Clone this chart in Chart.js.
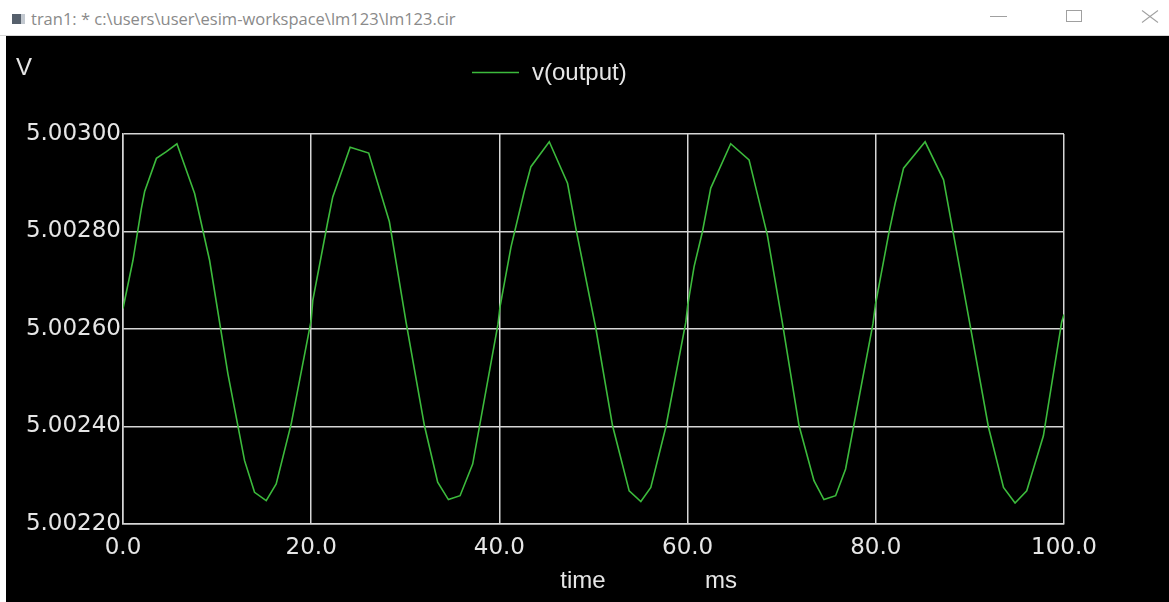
<!DOCTYPE html>
<html>
<head>
<meta charset="utf-8">
<script src="https://cdn.jsdelivr.net/npm/chart.js@4.4.1/dist/chart.umd.min.js"></script>
<style>
  html, body { margin: 0; padding: 0; background: #ffffff; width: 1169px; height: 602px; overflow: hidden; }
  #titlebar { position: absolute; left: 0; top: 0; width: 1169px; height: 35px; background: #ffffff; border-bottom: 1px solid #d6d6d6; }
  #icon { position: absolute; left: 12px; top: 14px; width: 9px; height: 10px; background: #56606c; }
  #icon2 { position: absolute; left: 21px; top: 14px; width: 4px; height: 10px; background: #c3c9d0; }
  #ttext { position: absolute; left: 31px; top: 8px; font-family: "Open Sans", "Noto Sans", sans-serif; font-size: 16.5px; line-height: 22px; color: #8a8a8a; white-space: nowrap; }
  #min { position: absolute; left: 990px; top: 16px; width: 17px; height: 1px; background: #a0a0a0; }
  #max { position: absolute; left: 1066px; top: 10px; width: 16px; height: 12px; border: 1px solid #a0a0a0; box-sizing: border-box; }
  .xl { position: absolute; left: 1140px; top: 16px; width: 20px; height: 1px; background: #a0a0a0; }
  #x1 { transform: rotate(37deg); }
  #x2 { transform: rotate(-37deg); }
  #plotwrap { position: absolute; left: 6px; top: 36px; width: 1163px; height: 566px; background: #000000; }
  canvas { display: block; }
</style>
</head>
<body>
<div id="titlebar">
  <div id="icon"></div><div id="icon2"></div>
  <div id="ttext">tran1: * c:\users\user\esim-workspace\lm123\lm123.cir</div>
  <div id="min"></div>
  <div id="max"></div>
  <div class="xl" id="x1"></div><div class="xl" id="x2"></div>
</div>
<div id="plotwrap"><canvas id="c" width="1163" height="566"></canvas></div>
<script>
const seriesName = "v(output)";
const yAxisUnit = "V";
const xAxisName = "time";
const xAxisUnit = "ms";

const yTicks = [5.0022, 5.0024, 5.0026, 5.0028, 5.0030];
const xTicks = [0, 20, 40, 60, 80, 100];

const timeMs = [
  0, 1.06, 1.95, 2.30, 3.55, 4.61, 5.73, 7.61, 9.20, 11.15, 12.92, 13.98, 15.22, 16.28, 17.88,
  20.0, 20.17, 21.76, 22.29, 24.14, 26.11, 28.31, 30.08, 32.03, 33.44, 34.58, 35.82, 37.16,
  39.85, 40.06, 41.23, 42.64, 43.35, 45.30, 47.24, 48.13, 50.25, 52.02, 53.79, 55.03, 56.09, 57.69,
  59.81, 60.02, 60.69, 61.57, 62.46, 64.58, 66.53, 68.47, 70.06, 71.84, 73.43, 74.49, 75.73, 76.79,
  79.70, 79.96, 81.38, 82.06, 82.95, 85.24, 87.20, 88.08, 90.02, 91.97, 93.57, 94.80, 96.04, 97.81,
  99.75, 100
];
const vOutput = [
  5.002642, 5.002741, 5.002847, 5.002882, 5.002950, 5.002964, 5.002980, 5.002878, 5.002741, 5.002508, 5.002330, 5.002265, 5.002248, 5.002282, 5.002406,
  5.002618, 5.002659, 5.002820, 5.002871, 5.002973, 5.002961, 5.002820, 5.002614, 5.002402, 5.002286, 5.002250, 5.002258, 5.002323,
  5.002610, 5.002645, 5.002768, 5.002882, 5.002933, 5.002984, 5.002899, 5.002806, 5.002601, 5.002402, 5.002268, 5.002246, 5.002275, 5.002399,
  5.002614, 5.002650, 5.002728, 5.002799, 5.002889, 5.002980, 5.002947, 5.002793, 5.002614, 5.002402, 5.002289, 5.002250, 5.002258, 5.002313,
  5.002611, 5.002650, 5.002796, 5.002858, 5.002930, 5.002984, 5.002906, 5.002813, 5.002608, 5.002399, 5.002275, 5.002243, 5.002268, 5.002381,
  5.002614, 5.002630
];

const points = timeMs.map((t, i) => ({ x: t, y: vOutput[i] }));

const FONT = "'Liberation Sans', Arial, sans-serif";
const TICKFONT = "'DejaVu Sans', sans-serif";
const TXT = "#e6e6e6";
const GRID = "#d6d6d6";
const LINE = "#3cba3c";

function fixX(scale) {
  scale.height = 78;
  scale.paddingLeft = 0; scale.paddingRight = 0; scale.paddingTop = 0; scale.paddingBottom = 0;
}
function fixY(scale) {
  scale.width = 117;
  scale.paddingLeft = 0; scale.paddingRight = 0; scale.paddingTop = 0; scale.paddingBottom = 0;
}

const extras = {
  id: "extras",
  afterDraw(chart) {
    const ctx = chart.ctx;
    ctx.save();
    ctx.fillStyle = TXT;
    ctx.font = "24px " + FONT;
    ctx.textBaseline = "middle";
    ctx.textAlign = "left";
    ctx.fillText(yAxisUnit, 10, 32);
    // legend
    ctx.strokeStyle = LINE;
    ctx.lineWidth = 1.5;
    ctx.beginPath();
    ctx.moveTo(466, 36.5);
    ctx.lineTo(513, 36.5);
    ctx.stroke();
    ctx.fillText(chart.data.datasets[0].label, 526, 37);
    // x-axis title
    ctx.textAlign = "center";
    ctx.fillText(xAxisName, 577, 545);
    ctx.fillText(xAxisUnit, 715, 545);
    ctx.restore();
  }
};

new Chart(document.getElementById("c"), {
  type: "line",
  data: {
    datasets: [{
      label: seriesName,
      data: points,
      borderColor: LINE,
      borderWidth: 1.6,
      pointRadius: 0,
      tension: 0,
      fill: false
    }]
  },
  options: {
    responsive: false,
    animation: false,
    devicePixelRatio: 1,
    layout: { padding: { top: 98, right: 105, left: 0, bottom: 0 } },
    plugins: { legend: { display: false }, tooltip: { enabled: false } },
    scales: {
      x: {
        type: "linear",
        min: 0, max: 100,
        afterBuildTicks(scale) { scale.ticks = xTicks.map(v => ({ value: v })); },
        afterFit: fixX,
        ticks: {
          autoSkip: false, maxRotation: 0, color: TXT, padding: 10,
          font: { family: TICKFONT, size: 23 },
          callback: v => Number(v).toFixed(1)
        },
        grid: { color: GRID, lineWidth: 1.5, drawTicks: false },
        border: { display: true, color: GRID, width: 1.5 }
      },
      y: {
        type: "linear",
        min: 5.0022, max: 5.0030,
        afterBuildTicks(scale) { scale.ticks = yTicks.map(v => ({ value: v })); },
        afterFit: fixY,
        ticks: {
          autoSkip: false, color: TXT, padding: 2,
          font: { family: TICKFONT, size: 23 },
          callback: v => Number(v).toFixed(5)
        },
        grid: { color: GRID, lineWidth: 1.5, drawTicks: false },
        border: { display: true, color: GRID, width: 1.5 }
      }
    }
  },
  plugins: [extras]
});
</script>
</body>
</html>
